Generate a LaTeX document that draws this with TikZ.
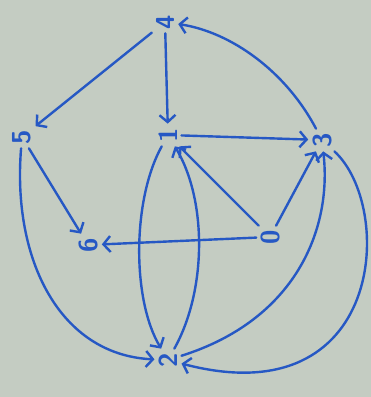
\documentclass[tikz,border=0pt]{standalone}
\usetikzlibrary{arrows.meta}
\definecolor{board}{RGB}{196,204,194}
\definecolor{ink}{RGB}{38,88,196}
\begin{document}
\begin{tikzpicture}[x=1pt,y=1pt,
  lbl/.style={text=ink, font=\sffamily\bfseries\fontsize{26}{26}\selectfont, rotate=90, inner sep=4pt},
  edge/.style={draw=ink, line width=2.4pt, line cap=round, -{Straight Barb[length=7pt,width=16pt,line width=2.4pt]}}]
\fill[board] (0,0) rectangle (371,397);
\useasboundingbox (0,0) rectangle (371,397);
\node[lbl] (n4) at (165,375) {4};
\node[lbl] (n5) at (22,260) {5};
\node[lbl] (n1) at (168,262) {1};
\node[lbl] (n3) at (322,257) {3};
\node[lbl] (n6) at (88,152) {6};
\node[lbl] (n0) at (270,160) {0};
\node[lbl] (n2) at (168,37) {2};
\draw[edge] (n4) -- (n5);
\draw[edge] (n4) -- (n1);
\draw[edge] (n3) .. controls (285,327) and (230,365) .. (n4);
\draw[edge] (n1) -- (n3);
\draw[edge] (n0) -- (n1);
\draw[edge] (n0) -- (n3);
\draw[edge] (n0) -- (n6);
\draw[edge] (n5) -- (n6);
\draw[edge] (n5) .. controls (12,137) and (60,42) .. (n2);
\draw[edge] (n1) .. controls (132,197) and (132,97) .. (n2);
\draw[edge] (n2) .. controls (207,107) and (207,197) .. (n1);
\draw[edge] (n2) .. controls (295,77) and (332,167) .. (n3);
\draw[edge] (n3) .. controls (395,190) and (385,-20) .. (n2);
\end{tikzpicture}
\end{document}
